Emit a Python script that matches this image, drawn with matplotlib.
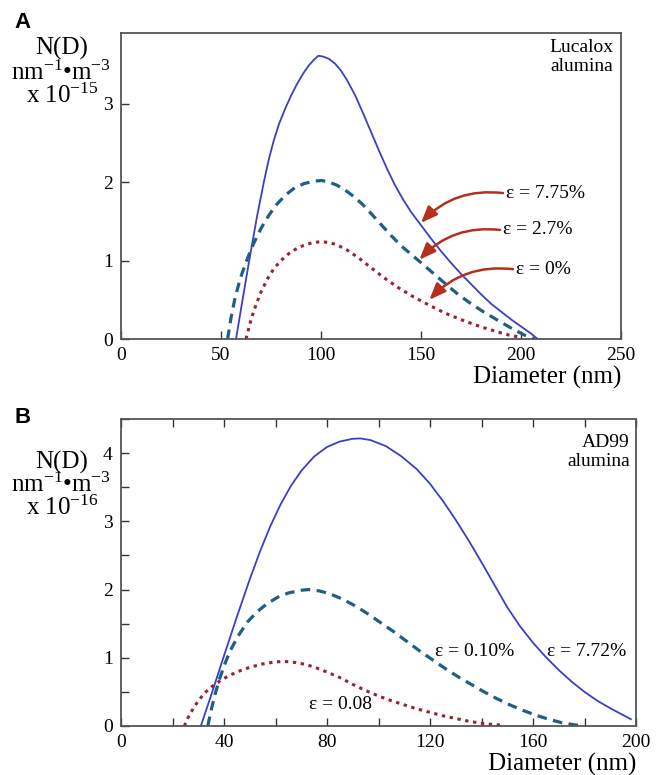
import matplotlib
matplotlib.use("Agg")
import matplotlib.pyplot as plt
from matplotlib.ticker import MultipleLocator

# ---- panel A: Lucalox alumina (N x 1e-15) ----
a_d_775 = [57.5, 60, 62.5, 65, 68, 71.5, 74, 76.5, 79, 82, 85, 88, 91, 94, 96.5, 98.7, 101, 104,
           107, 110, 113, 117, 121, 125, 129, 133, 137, 141, 145, 150, 155, 160, 165, 170, 175,
           180, 185, 190, 195, 200, 205, 208.3]
a_n_775 = [0, 0.38, 0.76, 1.13, 1.56, 2.01, 2.3, 2.54, 2.74, 2.93, 3.1, 3.25, 3.38, 3.49, 3.56,
           3.61, 3.6, 3.57, 3.51, 3.42, 3.3, 3.11, 2.88, 2.64, 2.4, 2.17, 1.96, 1.78, 1.62, 1.45,
           1.28, 1.12, 0.97, 0.83, 0.7, 0.57, 0.45, 0.35, 0.25, 0.16, 0.07, 0]

a_d_27 = [53.3, 55, 57, 59.5, 62.5, 66, 70, 74, 78, 82.5, 87, 91.5, 96, 100.3, 104, 108, 112,
          116.7, 121, 125, 130, 135, 140, 145, 149.2, 156, 163.3, 169, 175, 181, 188.3, 195,
          201.7, 206.7]
a_n_27 = [0, 0.27, 0.52, 0.76, 0.98, 1.2, 1.41, 1.58, 1.72, 1.84, 1.93, 1.98, 2.01, 2.02, 2.0,
          1.96, 1.9, 1.81, 1.71, 1.6, 1.46, 1.32, 1.19, 1.08, 0.99, 0.84, 0.68, 0.56, 0.45, 0.35,
          0.24, 0.14, 0.05, 0]

a_d_0 = [62.5, 64.5, 66.7, 70, 73.3, 76.5, 80, 84, 88.3, 92, 96, 100, 104, 108, 113.3, 119, 125,
         131, 138.3, 146, 154.2, 162, 171.7, 180, 188.3, 194, 200]
a_n_0 = [0, 0.2, 0.38, 0.6, 0.77, 0.9, 1.0, 1.09, 1.16, 1.2, 1.23, 1.24, 1.23, 1.2, 1.13, 1.03,
         0.91, 0.79, 0.66, 0.54, 0.43, 0.33, 0.23, 0.155, 0.09, 0.05, 0.02]

# ---- panel B: AD99 alumina (N x 1e-16) ----
b_d_772 = [31, 35, 40, 45, 50, 54, 58, 62, 66, 70, 75, 80, 85, 90, 93, 97, 103, 109, 115, 120,
           125, 130, 135, 140, 145, 150, 155, 160, 165, 170, 175, 180, 185, 190, 194, 198]
b_n_772 = [0, 0.45, 1.03, 1.6, 2.15, 2.56, 2.93, 3.25, 3.52, 3.74, 3.95, 4.09, 4.17, 4.21,
           4.215, 4.19, 4.1, 3.95, 3.76, 3.55, 3.3, 3.02, 2.72, 2.4, 2.07, 1.74, 1.46, 1.22, 1.01,
           0.82, 0.65, 0.5, 0.37, 0.26, 0.18, 0.1]

b_d_010 = [33.7, 35, 36.5, 38, 40, 42.5, 45.5, 49, 53, 57, 61, 65, 70, 73, 77, 81, 86, 91, 96,
           101, 106, 111, 116, 121, 126, 131, 136, 141, 146, 151, 156, 161, 166, 171, 175.5,
           179.6]
b_n_010 = [0, 0.23, 0.46, 0.66, 0.88, 1.11, 1.32, 1.52, 1.68, 1.8, 1.89, 1.95, 1.99, 2.0, 1.98,
           1.94, 1.86, 1.76, 1.64, 1.51, 1.38, 1.24, 1.1, 0.97, 0.84, 0.72, 0.61, 0.5, 0.4, 0.31,
           0.23, 0.16, 0.1, 0.05, 0.02, 0]

b_d_008 = [24.6, 26, 27.8, 30, 32.4, 35, 38, 41.5, 45.5, 50, 55, 60, 64, 68, 72, 76, 80, 85, 90,
           95, 100, 105, 110, 115, 120, 125, 130, 135, 140, 145, 148.8]
b_n_008 = [0, 0.12, 0.24, 0.37, 0.48, 0.57, 0.65, 0.73, 0.8, 0.86, 0.91, 0.94, 0.945, 0.93, 0.9,
           0.85, 0.79, 0.71, 0.61, 0.52, 0.44, 0.37, 0.31, 0.25, 0.2, 0.15, 0.11, 0.07, 0.04,
           0.02, 0.01]

# styles
SOLID_C = '#3b3fc4'
DASH_C = '#1f5f86'
DOT_C = '#9a2232'
ARROW_C = '#b5301a'
SERIF = 'Liberation Serif'

plt.rcParams['font.family'] = [SERIF, 'DejaVu Serif']
plt.rcParams['mathtext.fontset'] = 'custom'
plt.rcParams['mathtext.rm'] = SERIF
plt.rcParams['mathtext.it'] = SERIF + ':italic'
plt.rcParams['mathtext.bf'] = SERIF + ':bold'

fig = plt.figure(figsize=(6.63, 7.75), dpi=100)
W, H = 663.0, 775.0


def style_axes(ax):
    for sp in ax.spines.values():
        sp.set_color('#555555')
        sp.set_linewidth(1.3)
    ax.tick_params(which='both', direction='in', length=5.5, width=1.0, color='#333333',
                   labelsize=14, pad=6)


def draw_curves(ax, solid, dashed, dotted):
    ax.plot(solid[0], solid[1], color=SOLID_C, lw=1.3, solid_joinstyle='round')
    ax.plot(dashed[0], dashed[1], color=DASH_C, lw=2.3, dashes=(3.0, 2.0))
    ax.plot(dotted[0], dotted[1], color=DOT_C, lw=2.2, dashes=(1.1, 1.5))


def ylabel_block(y_px, power):
    fig.text(62 / W, 1 - y_px[0] / H, 'N(D)', ha='center', va='center', fontsize=18)
    fig.text(61 / W, 1 - y_px[1] / H, r'nm$^{\mathrm{-1}}$•m$^{\mathrm{-3}}$',
             ha='center', va='center', fontsize=18)
    fig.text(62 / W, 1 - y_px[2] / H, r'x 10$^{\mathrm{-%d}}$' % power,
             ha='center', va='center', fontsize=18)


# ---------------- panel A ----------------
axA = fig.add_axes([121 / W, 1 - 339 / H, 500 / W, 306 / H])
style_axes(axA)
draw_curves(axA, (a_d_775, a_n_775), (a_d_27, a_n_27), (a_d_0, a_n_0))
axA.set_xlim(0, 250)
axA.set_ylim(0, 3.9)
axA.xaxis.set_major_locator(MultipleLocator(50))
axA.yaxis.set_major_locator(MultipleLocator(1))
axA.text(0.984, 0.951, 'Lucalox', transform=axA.transAxes, ha='right', va='center', fontsize=14)
axA.text(0.984, 0.889, 'alumina', transform=axA.transAxes, ha='right', va='center', fontsize=14)
axA.text(1.0, -0.127, 'Diameter (nm)', transform=axA.transAxes, ha='right', va='center',
         fontsize=18)

for label, tx, ty, tip in [('ε = 7.75%', 192.5, 1.86, (150, 1.48)),
                           ('ε = 2.7%', 191, 1.39, (149.2, 1.01)),
                           ('ε = 0%', 197.5, 0.89, (154.2, 0.5))]:
    axA.text(tx, ty, label, ha='left', va='center', fontsize=14)
    axA.annotate('', xy=tip, xytext=(tx - 1.5, ty),
                 arrowprops=dict(arrowstyle='-|>,head_length=0.5,head_width=0.2',
                                 connectionstyle='arc3,rad=0.25', color=ARROW_C, lw=1.8,
                                 mutation_scale=20, shrinkA=0, shrinkB=0))

ylabel_block((48, 73, 96), 15)
fig.text(14 / W, 1 - 28 / H, 'A', fontsize=16, fontweight='bold', family='Liberation Sans',
         va='baseline', ha='left')

# ---------------- panel B ----------------
axB = fig.add_axes([121 / W, 1 - 726 / H, 515 / W, 307 / H])
style_axes(axB)
draw_curves(axB, (b_d_772, b_n_772), (b_d_010, b_n_010), (b_d_008, b_n_008))
axB.set_xlim(0, 200)
axB.set_ylim(0, 4.5)
axB.xaxis.set_major_locator(MultipleLocator(40))
axB.xaxis.set_minor_locator(MultipleLocator(20))
axB.yaxis.set_major_locator(MultipleLocator(1))
axB.yaxis.set_minor_locator(MultipleLocator(0.5))
axB.tick_params(axis='x', which='both', top=True)
axB.text(0.988, 0.925, 'AD99', transform=axB.transAxes, ha='right', va='center', fontsize=14)
axB.text(0.988, 0.86, 'alumina', transform=axB.transAxes, ha='right', va='center', fontsize=14)
axB.text(1.0, -0.124, 'Diameter (nm)', transform=axB.transAxes, ha='right', va='center',
         fontsize=18)
axB.text(122, 1.09, 'ε = 0.10%', ha='left', va='center', fontsize=14)
axB.text(165.5, 1.09, 'ε = 7.72%', ha='left', va='center', fontsize=14)
axB.text(73.1, 0.31, 'ε = 0.08', ha='left', va='center', fontsize=14)

ylabel_block((462, 485, 508), 16)
fig.text(14 / W, 1 - 423 / H, 'B', fontsize=16, fontweight='bold', family='Liberation Sans',
         va='baseline', ha='left')

fig.savefig('out.png', dpi=100)
